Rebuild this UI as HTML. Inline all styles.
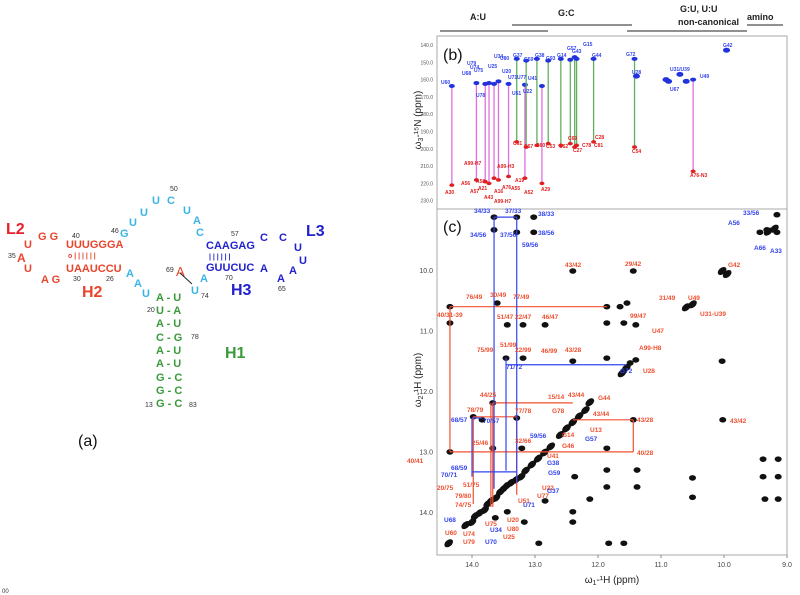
<!DOCTYPE html>
<html><head><meta charset="utf-8">
<style>
html,body{margin:0;padding:0;background:#fff;}
body{width:800px;height:595px;overflow:hidden;position:relative;font-family:"Liberation Sans",sans-serif;}
svg{position:absolute;left:0;top:0;}
.t{font-weight:bold;font-family:"Liberation Sans",sans-serif;}
</style></head>
<body>
<svg id="fig" width="800" height="595" viewBox="0 0 800 595">
 <g id="struct" class="t">
  <text x="6" y="234" font-size="16" fill="#e8202c">L2</text>
  <text x="38" y="240" font-size="11" fill="#e8452c">G G</text>
  <text x="72" y="238" font-size="7" fill="#333" font-weight="normal">40</text>
  <text x="66" y="248" font-size="11" fill="#e8452c">UUUGGGA</text>
  <text x="68" y="258" font-size="7" fill="#e8452c">o | | | | | |</text>
  <text x="66" y="272" font-size="11" fill="#e8452c">UAAUCCU</text>
  <text x="24" y="248" font-size="11" fill="#e8452c">U</text>
  <text x="8" y="258" font-size="7" fill="#333" font-weight="normal">35</text>
  <text x="17" y="262" font-size="12" fill="#e8452c">A</text>
  <text x="24" y="272" font-size="11" fill="#e8452c">U</text>
  <text x="41" y="283" font-size="11" fill="#e8452c">A G</text>
  <text x="73" y="281" font-size="7" fill="#333" font-weight="normal">30</text>
  <text x="106" y="281" font-size="7" fill="#333" font-weight="normal">26</text>
  <text x="82" y="297" font-size="16" fill="#e8452c">H2</text>
  <text x="111" y="233" font-size="7" fill="#333" font-weight="normal">46</text>
  <g fill="#3ab4e6" font-size="11">
   <text x="120" y="237">G</text><text x="129" y="226">U</text><text x="140" y="216">U</text>
   <text x="152" y="204">U</text><text x="167" y="204">C</text><text x="183" y="214">U</text>
   <text x="193" y="224">A</text><text x="196" y="236">C</text>
   <text x="126" y="277">A</text><text x="134" y="287">A</text><text x="142" y="297">U</text>
   <text x="200" y="282">A</text><text x="191" y="294">U</text>
  </g>
  <text x="170" y="191" font-size="7" fill="#333" font-weight="normal">50</text>
  <text x="166" y="272" font-size="7" fill="#333" font-weight="normal">69</text>
  <text x="176" y="276" font-size="13" fill="#e8452c" font-weight="normal">A</text>
  <line x1="180" y1="273" x2="192" y2="284" stroke="#222" stroke-width="1"/>
  <text x="201" y="298" font-size="7" fill="#333" font-weight="normal">74</text>
  <g fill="#2222cc" font-size="11">
   <text x="231" y="236" font-size="7" fill="#333" font-weight="normal">57</text>
   <text x="206" y="249">CAAGAG</text>
   <text x="209" y="259" font-size="7">| | | | | |</text>
   <text x="206" y="271">GUUCUC</text>
   <text x="260" y="241">C</text><text x="279" y="241">C</text>
   <text x="294" y="251">U</text><text x="299" y="264">U</text>
   <text x="289" y="274">A</text><text x="277" y="282">A</text><text x="260" y="272">A</text>
   <text x="231" y="295" font-size="16">H3</text>
   <text x="306" y="236" font-size="16">L3</text>
  </g>
  <text x="225" y="280" font-size="7" fill="#333" font-weight="normal">70</text>
  <text x="278" y="291" font-size="7" fill="#333" font-weight="normal">65</text>
  <g fill="#3a9a3a" font-size="11">
   <text x="156" y="301">A - U</text><text x="156" y="314">U - A</text><text x="156" y="327">A - U</text>
   <text x="156" y="341">C - G</text><text x="156" y="354">A - U</text><text x="156" y="367">A - U</text>
   <text x="156" y="381">G - C</text><text x="156" y="394">G - C</text><text x="156" y="407">G - C</text>
   <text x="225" y="358" font-size="16">H1</text>
  </g>
  <text x="147" y="312" font-size="7" fill="#333" font-weight="normal">20</text>
  <text x="191" y="339" font-size="7" fill="#333" font-weight="normal">78</text>
  <text x="145" y="407" font-size="7" fill="#333" font-weight="normal">13</text>
  <text x="189" y="407" font-size="7" fill="#333" font-weight="normal">83</text>
 </g>
 <text x="78" y="446" font-size="16" fill="#111">(a)</text>

 <g font-size="9" class="t" fill="#222">
  <text x="470" y="20">A:U</text>
  <text x="558" y="16">G:C</text>
  <text x="680" y="12">G:U, U:U</text>
  <text x="678" y="25">non-canonical</text>
  <text x="747" y="20">amino</text>
  <line x1="440" y1="31" x2="548" y2="31" stroke="#222"/>
  <line x1="512" y1="25" x2="632" y2="25" stroke="#222"/>
  <line x1="627" y1="31" x2="747" y2="31" stroke="#222"/>
  <line x1="747" y1="25" x2="783" y2="25" stroke="#222"/>
 </g>

 <rect x="437" y="36" width="350" height="173" fill="none" stroke="#aaa"/>
 <rect x="437" y="209" width="350" height="346" fill="none" stroke="#aaa"/>
 <text x="443" y="60" font-size="16" fill="#111">(b)</text>
 <text x="443" y="232" font-size="16" fill="#111">(c)</text>
 <text transform="translate(421,120) rotate(-90)" text-anchor="middle" font-size="10" fill="#222">ω<tspan font-size="7" dy="2">3</tspan><tspan dy="-2">-¹⁵N (ppm)</tspan></text>
 <text transform="translate(421,380) rotate(-90)" text-anchor="middle" font-size="10" fill="#222">ω<tspan font-size="7" dy="2">2</tspan><tspan dy="-2">-¹H (ppm)</tspan></text>
 <text x="612" y="583" text-anchor="middle" font-size="10" fill="#222">ω<tspan font-size="7" dy="2">1</tspan><tspan dy="-2">-¹H (ppm)</tspan></text>
 <g id="plot"></g>
 <text x="2" y="593" font-size="6" fill="#333">00</text>
</svg>
<script>
// ---------- data ----------
const xTicks = [14, 13, 12, 11, 10, 9];
const yTicksC = [10, 11, 12, 13, 14];
const yTicksB = [140, 150, 160, 170, 180, 190, 200, 210, 220, 230];
// (b) A:U imino N -> adenine N1 correlations
const auH = [14.32, 13.93, 13.79, 13.73, 13.65, 13.58, 13.42, 13.16, 12.89, 10.49];
const auUN = [163.7, 162, 162.5, 162, 162.5, 161, 162.5, 163, 163.7, 160];
const auAN = [221, 218, 219, 220, 217, 218, 216, 217, 220, 213];
// (b) G:C imino N -> cytosine N3 correlations
const gcH = [13.29, 13.14, 12.97, 12.79, 12.59, 12.44, 12.37, 12.34, 12.07, 11.42];
const gcGN = [148, 149, 148, 149, 148, 148.5, 147, 148, 148, 148];
const gcCN = [196, 199, 198, 197, 198, 197, 199, 198, 196, 199];
// (b) extra imino peaks
const bxH = [11.39, 10.92, 10.88, 10.7, 10.6, 9.96];
const bxN = [158, 160, 161, 157, 161, 143];
// (c) black NOESY peaks (x = ω1 ppm, y = ω2 ppm)
const pkX = [13.65,13.65,13.29,13.29,13.02,13.02,9.32,9.16,9.43,9.16,12.40,11.44,10.03,14.35,13.60,11.86,11.65,11.54,14.35,13.44,13.19,12.84,11.40,11.86,11.59,13.46,13.19,12.40,11.49,11.40,11.86,10.03,13.67,13.98,13.84,13.29,13.67,13.21,14.35,11.44,11.86,10.02,11.38,11.86,12.37,11.38,11.86,10.5,10.5,9.38,9.14,9.38,9.14,9.35,9.14,12.84,12.40,12.40,12.13,14.37,11.83,11.59,12.94,13.17,13.63,13.44];
const pkY = [9.11,9.32,9.11,9.36,9.11,9.36,9.32,9.07,9.36,9.36,10.0,10.0,10.0,10.59,10.53,10.59,10.59,10.53,10.86,10.89,10.89,10.89,10.89,10.86,10.86,11.44,11.44,11.49,11.52,11.47,11.44,11.49,12.18,12.41,12.46,12.43,12.93,12.93,12.99,12.46,12.93,12.46,13.29,13.29,13.40,13.57,13.57,13.74,13.42,13.11,13.11,13.40,13.40,13.77,13.77,13.80,13.98,14.15,13.77,14.5,14.5,14.5,14.5,14.15,14.08,13.98];
// (c) diagonal peaks
const dgX = [14.37,14.1,14.0,13.95,13.88,13.8,13.75,13.7,13.62,13.55,13.5,13.45,13.38,13.3,13.22,13.15,13.05,12.95,12.85,12.75,12.6,12.5,12.4,12.3,12.2,12.13,11.62,11.55,10.6,10.5,10.03,9.95,9.3,9.2];
const dgY = [14.5,14.2,14.15,14.05,14.0,13.95,13.85,13.8,13.75,13.65,13.6,13.55,13.5,13.45,13.4,13.3,13.2,13.1,13.0,12.9,12.71,12.6,12.5,12.4,12.3,12.17,11.69,11.6,10.6,10.55,10.0,10.05,9.35,9.3];
// (c) sequential walk segments [x1,y1,x2,y2] in ppm
const redSegX1 = [14.35,14.35,14.35,11.44,12.40,13.67,13.98,13.67,13.70,13.29,13.98];
const redSegY1 = [10.59,10.59,12.99,12.46,12.46,12.18,12.41,12.18,12.18,12.41,12.41];
const redSegX2 = [11.86,14.35,11.44,11.44,11.44,12.40,13.29,13.67,13.70,13.29,13.98];
const redSegY2 = [10.59,12.99,12.99,12.99,12.46,12.18,12.41,13.90,13.90,13.70,13.85];
const bluSegX1 = [13.65,13.65,13.29,13.46,13.46,14.0,14.0,14.0];
const bluSegY1 = [9.11,9.11,9.11,11.55,11.44,12.43,12.43,13.32];
const bluSegX2 = [13.29,13.65,13.29,11.55,13.46,13.84,14.0,13.30];
const bluSegY2 = [9.11,13.60,13.50,11.55,13.30,12.43,13.40,13.32];
// labels (annotation text, positioned in px)
const labR = ["43/42","29/42","G42","76/49","30/49","77/49","31/49","U49","40/31-39","U31-U39","51/47","22/47","46/47","99/47","U47","75/99","51/99","22/99","46/99","43/28","A99-H8","U28","44/25","15/14","43/44","G44","G78","78/79","77/78","43/44","43/28","43/42","U13","G14","25/46","32/66","G46","40/28","40/41","U41","51/75","U22","U77","20/75","79/80","U51","74/75","U75","U20","U80","U25","U74","U60","U79"];
const labRX = [565,625,728,466,490,513,659,688,437,700,497,515,542,630,652,477,500,515,541,565,639,643,480,548,568,598,552,467,515,593,637,730,590,562,472,515,562,637,407,547,463,542,537,437,455,518,455,485,507,507,503,463,445,463];
const labRY = [267,266,267,299,297,299,300,300,317,316,319,319,319,318,333,352,347,352,353,352,350,373,397,399,397,400,413,412,413,416,422,423,432,437,445,443,448,455,463,458,487,490,498,490,498,503,507,526,522,531,539,536,535,544];
const labB = ["34/33","37/33","38/33","34/56","37/56","38/56","59/56","33/56","A56","A66","A33","G72","71/72","68/57","70/57","G57","59/56","G38","68/59","G59","70/71","G37","U71","U68","U34","U70"];
const labBX = [474,505,538,470,500,538,522,743,728,754,770,620,506,451,483,585,530,547,451,548,441,547,523,444,490,485];
const labBY = [213,213,216,237,237,235,247,215,225,250,253,373,369,422,423,441,438,465,470,475,477,493,507,522,532,544];
const bLabU = ["U60","U68","U79","U74","U75","U25","U34","U80","U20","U71","U77","U41","G37","G59","G38","G93","G14","G57","G43","G15","G44","G72","U28","U31/U39","U49","G42","U67","U22","U51","U78"];
const bLabUX = [441,462,467,470,474,488,494,500,502,508,517,528,513,524,535,546,557,567,572,583,592,626,632,670,700,723,670,523,512,476];
const bLabUY = [84,75,65,69,72,68,58,60,73,79,79,80,57,61,57,60,57,50,53,46,57,56,74,71,78,47,91,93,95,97];
const bLabA = ["A30","A57","A56","A58","A21","A43","A16","A99-H7","A76","A55","A19","A52","A29","A99-H3","A99-H7","A76-N3","C61","C67","C60","C53","C62","C27","C78","C81","C28","C54","C69"];
const bLabAX = [445,470,461,476,478,484,494,494,502,511,515,524,541,497,464,690,513,524,536,546,559,573,582,594,595,632,568];
const bLabAY = [194,193,185,183,190,199,193,203,189,190,182,194,191,168,165,177,145,148,147,148,148,152,147,147,139,153,140];

// ---------- axes ----------
function xs(p){ return 472 + (14 - p) * 63; }
function ycN(p){ return 271 + (p - 10) * 60.5; }
function ybN(n){ return 45 + (n - 140) * 1.73; }

const NS = "http://www.w3.org/2000/svg";
const plot = document.getElementById("plot");
function mk(tag, attrs, parent){ const e = document.createElementNS(NS, tag); for (const k in attrs) e.setAttribute(k, attrs[k]); (parent||plot).appendChild(e); return e; }

// ticks
xTicks.forEach(function(t){
  const l = mk("text", {x: xs(t), y: 567, "font-size": 7, "text-anchor": "middle", fill: "#444"});
  l.textContent = t.toFixed(1);
  
  
  mk("line", {x1: xs(t), x2: xs(t), y1: 555, y2: 558, stroke: "#888"});
});
yTicksC.forEach(function(t){
  const l = mk("text", {x: 433, y: ycN(t) + 2, "font-size": 7, "text-anchor": "end", fill: "#444"});
  l.textContent = t.toFixed(1);
  
  
});
yTicksB.forEach(function(t){
  const l = mk("text", {x: 433, y: ybN(t) + 2, "font-size": 5, "text-anchor": "end", fill: "#555"});
  l.textContent = t.toFixed(1);
  
  
});

// panel b lines and peaks
auH.forEach(function(h, i){
  const ln = mk("line", {x1: xs(h), x2: xs(h), y1: ybN(auUN[i]), y2: ybN(auAN[i]), stroke: "#e070e0", "stroke-width": 1.3});
  
  
  const a = mk("ellipse", {cx: xs(h), cy: ybN(auAN[i]), rx: 2.5, ry: 1.8, fill: "#e02020"});
  
  
  const u = mk("ellipse", {cx: xs(h), cy: ybN(auUN[i]), rx: 3, ry: 2, fill: "#2233dd"});
  
  
});
gcH.forEach(function(h, i){
  const ln = mk("line", {x1: xs(h), x2: xs(h), y1: ybN(gcGN[i]), y2: ybN(gcCN[i]), stroke: "#60b060", "stroke-width": 1.3});
  
  
  const c = mk("ellipse", {cx: xs(h), cy: ybN(gcCN[i]), rx: 2.5, ry: 1.8, fill: "#e02020"});
  
  
  const g = mk("ellipse", {cx: xs(h), cy: ybN(gcGN[i]), rx: 3, ry: 2, fill: "#2233dd"});
  
  
});
bxH.forEach(function(h, i){
  const e = mk("ellipse", {cx: xs(h), cy: ybN(bxN[i]), rx: 3.5, ry: 2.5, fill: "#2233dd"});
  
  
});
function lab(arr, xa, ya, col, fs, nm){
  arr.forEach(function(s, i){
    const t = mk("text", {x: xa[i], y: ya[i], "font-size": fs, fill: col, "font-weight": "bold"});
    t.textContent = s;
    
    
  });
}
lab(bLabU, bLabUX, bLabUY, "#3344ee", 5, "imino-assignment-label");
lab(bLabA, bLabAX, bLabAY, "#e02020", 5, "nonexchangeable-assignment-label");

// panel c
dgX.forEach(function(x, i){
  const e = mk("ellipse", {cx: xs(x), cy: ycN(dgY[i]), rx: 5, ry: 3.2, fill: "#111", transform: "rotate(-40 " + xs(x) + " " + ycN(dgY[i]) + ")"});
  
  
});
pkX.forEach(function(x, i){
  const e = mk("ellipse", {cx: xs(x), cy: ycN(pkY[i]), rx: 3.5, ry: 2.8, fill: "#111"});
  
  
});
redSegX1.forEach(function(x, i){
  const l = mk("line", {x1: xs(x), y1: ycN(redSegY1[i]), x2: xs(redSegX2[i]), y2: ycN(redSegY2[i]), stroke: "#f05030", "stroke-width": 1.2});
  
  
});
bluSegX1.forEach(function(x, i){
  const l = mk("line", {x1: xs(x), y1: ycN(bluSegY1[i]), x2: xs(bluSegX2[i]), y2: ycN(bluSegY2[i]), stroke: "#3344ee", "stroke-width": 1.2});
  
  
});
lab(labR, labRX, labRY, "#f05030", 6.5, "noe-label");
lab(labB, labBX, labBY, "#3344ee", 6.5, "noe-label");
</script>
</body></html>
